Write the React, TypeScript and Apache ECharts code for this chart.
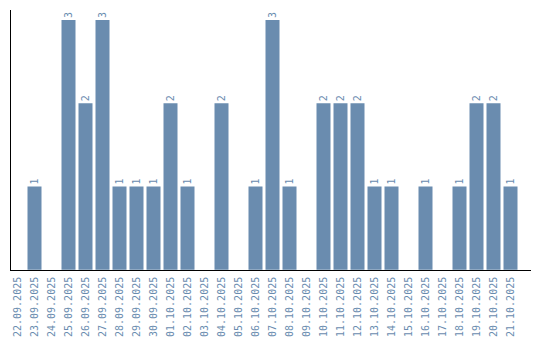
import React, { useEffect, useRef } from "react";
import * as echarts from "echarts";

const dates = [
  "22.09.2025", "23.09.2025", "24.09.2025", "25.09.2025", "26.09.2025", "27.09.2025",
  "28.09.2025", "29.09.2025", "30.09.2025", "01.10.2025", "02.10.2025", "03.10.2025",
  "04.10.2025", "05.10.2025", "06.10.2025", "07.10.2025", "08.10.2025", "09.10.2025",
  "10.10.2025", "11.10.2025", "12.10.2025", "13.10.2025", "14.10.2025", "15.10.2025",
  "16.10.2025", "17.10.2025", "18.10.2025", "19.10.2025", "20.10.2025", "21.10.2025",
];
const counts = [0, 1, 0, 3, 2, 3, 1, 1, 1, 2, 1, 0, 2, 0, 1, 3, 1, 0, 2, 2, 2, 1, 1, 0, 1, 0, 1, 2, 2, 1];

const BLUE = "#6a8caf";
const FONT = "DejaVu Sans Mono";

export default function App() {
  const ref = useRef<HTMLDivElement>(null);
  useEffect(() => {
    const chart = echarts.init(ref.current!, null, { renderer: "svg" });
    chart.setOption({
      animation: false,
      grid: { left: 9, top: 20, width: 510, height: 250, containLabel: false },
      xAxis: {
        type: "category",
        data: dates,
        axisLine: { show: false },
        axisTick: { show: false },
        axisLabel: {
          rotate: 90,
          interval: 0,
          margin: 7,
          fontFamily: FONT,
          fontSize: 10,
          color: BLUE,
        },
      },
      yAxis: {
        type: "value",
        min: 0,
        max: 3,
        axisLine: { show: false },
        axisTick: { show: false },
        axisLabel: { show: false },
        splitLine: { show: false },
      },
      series: [
        {
          type: "bar",
          data: counts.map((v) => (v === 0 ? null : v)),
          barWidth: 14,
          itemStyle: { color: BLUE },
          label: {
            show: true,
            position: "top",
            rotate: 90,
            align: "left",
            verticalAlign: "middle",
            distance: 2,
            fontFamily: FONT,
            fontSize: 10,
            color: BLUE,
          },
        },
      ],
      graphic: [
        {
          type: "line",
          shape: { x1: 10.5, y1: 10, x2: 10.5, y2: 270.5 },
          style: { stroke: "#000", lineWidth: 1 },
        },
        {
          type: "line",
          shape: { x1: 10, y1: 270.5, x2: 531, y2: 270.5 },
          style: { stroke: "#000", lineWidth: 1 },
        },
      ],
    });
    return () => chart.dispose();
  }, []);
  return <div ref={ref} style={{ width: 540, height: 340, position: "absolute", left: 0, top: 0 }} />;
}
